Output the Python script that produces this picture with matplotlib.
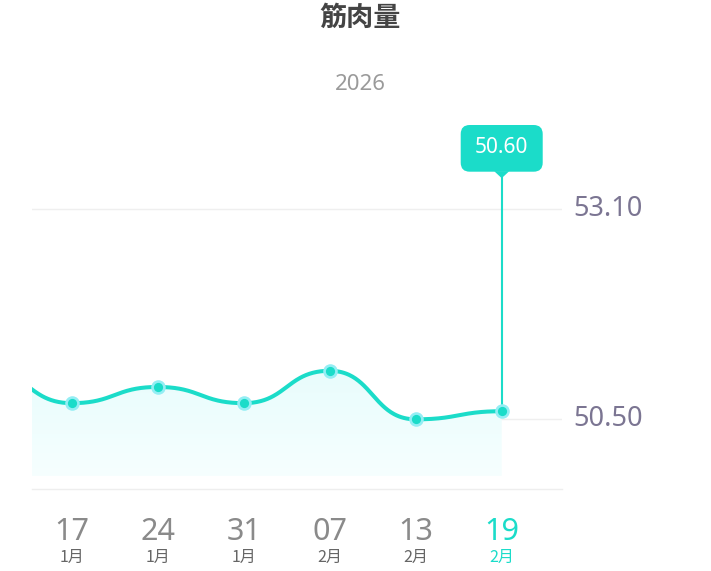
import numpy as np
import matplotlib
matplotlib.use("Agg")
import matplotlib.pyplot as plt
from matplotlib.patches import FancyBboxPatch, Polygon
from matplotlib.transforms import IdentityTransform, blended_transform_factory

# ---------------- data ----------------
title = "筋肉量"
year_label = "2026"
days = ["10", "17", "24", "31", "07", "13", "19"]
months = ["1月", "1月", "1月", "1月", "2月", "2月", "2月"]
values = [51.10, 50.70, 50.90, 50.70, 51.10, 50.50, 50.60]
ytick_values = [50.50, 53.10]
selected_index = 6

# ---------------- style ----------------
TEAL = "#1bdcc9"
HALO = "#94eef4"
W, H = 711, 571
fig = plt.figure(figsize=(W / 100, H / 100), dpi=100)
fig.patch.set_facecolor("white")

ax_left, ax_right, ax_top, ax_bottom = 31.7, 562.0, 110.0, 489.3
ax = fig.add_axes([ax_left / W, 1 - ax_bottom / H,
                   (ax_right - ax_left) / W, (ax_bottom - ax_top) / H])
x = np.arange(len(values), dtype=float)
y = np.array(values, dtype=float)
ax.set_xlim(0.535, 6.701)
ax.set_ylim(49.635, 54.324)
ax.set_facecolor("none")
for s in ["top", "left", "right"]:
    ax.spines[s].set_visible(False)
ax.spines["bottom"].set_color("#eeeeee")
ax.spines["bottom"].set_linewidth(1.0)
ax.set_xticks([])

# y tick labels on the right
ax.yaxis.tick_right()
ax.set_yticks(ytick_values)
ax.set_yticklabels([f"{v:.2f}" for v in ytick_values])
ax.tick_params(axis="y", length=0, pad=8.0, labelsize=19.5, labelcolor="#7b7592")
for lab in ax.get_yticklabels():
    lab.set_fontfamily(["Noto Sans", "DejaVu Sans"])
    lab.set_fontweight("light")
    lab.set_verticalalignment("center")
for v in ytick_values:
    ax.axhline(v, color="#efefef", lw=1.0, zorder=0)

# ---------------- smooth curve (ECharts-like monotone bezier) ----------------
smooth = 0.5
n = len(x)
cp_in = np.zeros((n, 2))
cp_out = np.zeros((n, 2))
for i in range(n):
    p = np.array([x[i], y[i]])
    if i == 0 or i == n - 1:
        dx = (x[1] - x[0]) if i == 0 else (x[-1] - x[-2])
        cp_in[i] = p - [dx * smooth, 0]
        cp_out[i] = p + [dx * smooth, 0]
        continue
    prevp = np.array([x[i - 1], y[i - 1]])
    nextp = np.array([x[i + 1], y[i + 1]])
    d0 = x[i] - x[i - 1]
    d1 = x[i + 1] - x[i]
    extremum = (y[i] - y[i - 1]) * (y[i + 1] - y[i]) <= 0
    v = nextp - prevp
    if extremum:
        v = np.array([v[0], 0.0])
    cp_in[i] = p - v * smooth * d0 / (d0 + d1)
    cp_out[i] = p + v * smooth * d1 / (d0 + d1)

t = np.linspace(0, 1, 80)[:, None]
pts = []
for i in range(n - 1):
    P0 = np.array([x[i], y[i]]); P1 = cp_out[i]; P2 = cp_in[i + 1]; P3 = np.array([x[i + 1], y[i + 1]])
    B = ((1 - t) ** 3) * P0 + 3 * ((1 - t) ** 2) * t * P1 + 3 * (1 - t) * t ** 2 * P2 + t ** 3 * P3
    pts.append(B if i == 0 else B[1:])
curve = np.vstack(pts)

# gradient area fill
fill_floor = 49.80
poly_pts = np.vstack([curve, [[x[-1], fill_floor], [x[0], fill_floor]]])
poly = Polygon(poly_pts, closed=True, facecolor="none", edgecolor="none", transform=ax.transData)
ax.add_patch(poly)
grad = np.linspace(0, 1, 256)[:, None]
top_c = np.array([0.91, 0.99, 0.99])
bot_c = np.array([0.965, 1.0, 1.0])
img = top_c[None, None, :] * (1 - grad[:, :, None]) + bot_c[None, None, :] * grad[:, :, None]
im = ax.imshow(img, extent=[x[0], x[-1], fill_floor, curve[:, 1].max()], origin="upper",
               aspect="auto", zorder=1, interpolation="bilinear")
im.set_clip_path(poly)
ax.set_xlim(0.535, 6.701)
ax.set_ylim(49.635, 54.324)

ax.plot(curve[:, 0], curve[:, 1], color=TEAL, lw=2.9, solid_capstyle="round", zorder=3)
ax.scatter(x, y, s=110, color=HALO, zorder=4, linewidths=0)
ax.scatter(x, y, s=44, color=TEAL, zorder=5, linewidths=0)

# ---------------- x labels ----------------
xlim = ax.get_xlim()
bt = blended_transform_factory(ax.transData, fig.transFigure)
for i in range(n):
    if not (xlim[0] <= x[i] <= xlim[1]):
        continue
    sel = i == selected_index
    ax.text(x[i], 1 - 532 / H, days[i], transform=bt, ha="center", va="center",
            fontsize=22, color=TEAL if sel else "#8a8a8a",
            family=["Noto Sans", "DejaVu Sans"], fontweight="light")
    ax.text(x[i], 1 - 557.5 / H, months[i], transform=bt, ha="center", va="center",
            fontsize=11.5, color=TEAL if sel else "#666666",
            family=["Noto Sans CJK SC", "DejaVu Sans"])

# ---------------- tooltip ----------------
fig.canvas.draw()
px, py = ax.transData.transform((x[selected_index], y[selected_index]))
box_w, box_h = 82, 46.7
box_bottom = H - 171.7
tip_h = 6.5
line_top = ax.transData.inverted().transform((px, box_bottom - tip_h))[1]
ax.plot([x[selected_index], x[selected_index]], [y[selected_index], line_top], color=TEAL, lw=1.5,
        zorder=2, clip_on=False)
box = FancyBboxPatch((px - box_w / 2, box_bottom), box_w, box_h,
                     boxstyle="round,pad=0,rounding_size=9", facecolor=TEAL, edgecolor="none",
                     transform=IdentityTransform(), zorder=10)
fig.patches.append(box)
tri = Polygon([[px - 7.5, box_bottom + 0.5], [px + 7.5, box_bottom + 0.5], [px, box_bottom - tip_h]],
              closed=True, facecolor=TEAL, edgecolor="none", transform=IdentityTransform(), zorder=10)
fig.patches.append(tri)
fig.text(px / W, 1 - 147.5 / H, f"{y[selected_index]:.2f}", ha="center", va="center",
         fontsize=15, color="white", family=["Noto Sans", "DejaVu Sans"], zorder=11)

# ---------------- titles ----------------
fig.text(360 / W, 1 - 18 / H, title, ha="center", va="center", fontsize=19.5, fontweight="bold",
         color="#444444", family=["Noto Sans CJK SC", "DejaVu Sans"])
fig.text(360 / W, 1 - 85 / H, year_label, ha="center", va="center", fontsize=16,
         color="#9a9a9a", family=["Noto Sans", "DejaVu Sans"])

fig.savefig("out.png", dpi=100, facecolor="white")
